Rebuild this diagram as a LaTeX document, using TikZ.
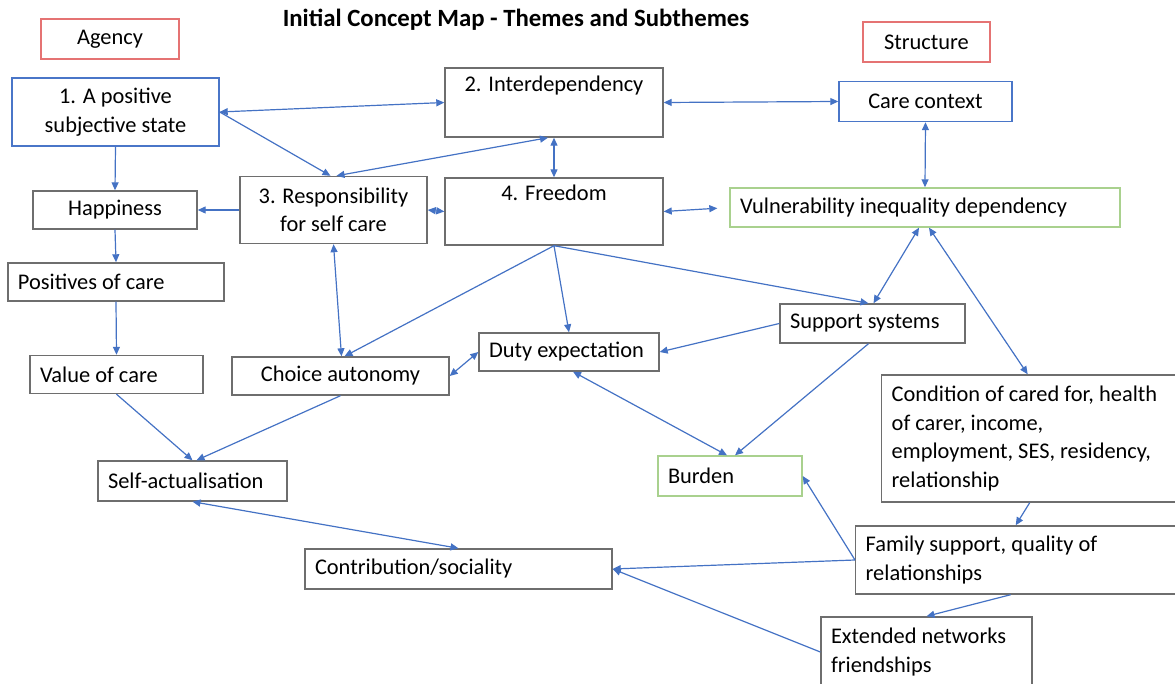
\documentclass[tikz,border=0pt]{standalone}
\usepackage{fontspec}
\setmainfont{Carlito}
\usetikzlibrary{arrows.meta}
\definecolor{linkB}{HTML}{4472C4}
\definecolor{boxG}{HTML}{6E6E6E}
\definecolor{themeB}{HTML}{4A76C8}
\definecolor{strucG}{HTML}{A9D18E}
\definecolor{headR}{HTML}{E57373}

\tikzset{
  box/.style={draw=boxG, line width=0.7pt, rectangle, inner xsep=5pt, inner ysep=0pt},
  cbox/.style={box, align=center},
  lbox/.style={box, align=flush left},
  link/.style={linkB, line width=0.6pt},
  tip/.style={-{Triangle[length=4pt,width=3.5pt]}},
  tips/.style={{Triangle[length=4pt,width=3.5pt]}-{Triangle[length=4pt,width=3.5pt]}}
}

\begin{document}
\begin{tikzpicture}[x=0.5pt, y=-0.5pt, font=\fontsize{11.2}{14.3}\selectfont]
  \useasboundingbox (0,0) rectangle (1175,684);

  \node[font=\fontsize{12.4}{15}\selectfont\bfseries] (title) at (516,20)
    {Initial Concept Map - Themes and Subthemes};
  \node[cbox, draw=headR, minimum width=69pt, minimum height=20pt] (agency) at (110,39) {Agency};
  \node[cbox, draw=headR, minimum width=63.5pt, minimum height=20pt] (structure) at (926.5,42) {Structure};

  % main themes
  \node[cbox, draw=themeB, minimum width=103.5pt, minimum height=34pt] (n1) at (115.5,112)
    {1. A positive\\subjective state};
  \node[cbox, minimum width=109pt, minimum height=34.5pt] (inter) at (554,102.5)
    {2. Interdependency\\\strut};
  \node[cbox, minimum width=93.5pt, minimum height=33.5pt] (resp) at (333.5,210)
    {3. Responsibility\\for self care};
  \node[cbox, minimum width=109pt, minimum height=33.5pt] (freedom) at (554,211.5)
    {4. Freedom\\\strut};

  % agency side
  \node[cbox, minimum width=82pt, minimum height=19pt] (happy) at (115,210) {Happiness};
  \node[lbox, text width=98pt, minimum height=19pt] (positives) at (116,282) {Positives of care};
  \node[lbox, text width=76.5pt, minimum height=19pt] (value) at (116.5,374.5) {Value of care};
  \node[cbox, minimum width=108.5pt, minimum height=19pt] (choice) at (340.5,376) {Choice autonomy};
  \node[lbox, text width=84.5pt, minimum height=20pt] (selfact) at (192.5,481) {Self-actualisation};
  \node[lbox, text width=80pt, minimum height=19pt] (duty) at (569,352) {Duty expectation};
  \node[lbox, text width=143.5pt, minimum height=20pt] (contrib) at (458.5,569) {Contribution/sociality};

  % structure side
  \node[cbox, draw=themeB, minimum width=86.5pt, minimum height=20pt] (carectx) at (925.5,101.5) {Care context};
  \node[lbox, draw=strucG, text width=185pt, minimum height=19.5pt] (vuln) at (925,207.5)
    {Vulnerability inequality dependency};
  \node[lbox, text width=82.5pt, minimum height=19.5pt] (support) at (872.5,323.5) {Support systems};
  \node[lbox, draw=strucG, text width=62pt, minimum height=20pt] (burden) at (730,476) {Burden};
  \node[lbox, anchor=west, text width=140pt, minimum height=63.5pt] (condition) at (881,438.5)
    {Condition of cared for, health\\of carer, income,\\employment, SES, residency,\\relationship};
  \node[lbox, anchor=west, text width=150pt, minimum height=34pt] (family) at (855,560)
    {Family support, quality of\\relationships};
  \node[lbox, text width=95.5pt, minimum height=35pt] (extended) at (926.5,652)
    {Extended networks\\friendships};

  % two-way links
  \foreach \a/\sa/\b/\sb in {
    n1.east/0/inter.west/0,
    inter.south/-3/resp.north/1.5,
    inter.south/0/freedom.north/0,
    inter.east/0/carectx.west/0,
    resp.east/0/freedom.west/0,
    carectx.south/0/vuln.north/0,
    resp.south/0/choice.north/0.5,
    vuln.south/-3/support.north/0.5,
    vuln.south/2/condition.north/-2,
    duty.south/2/burden.north/-1.5,
    choice.east/0/duty.west/0,
    selfact.south/0/contrib.north/0}{
    \draw[link, tips] ([xshift=\sa pt]\a) -- ([xshift=\sb pt]\b);
  }
  \draw[link, tips, shorten >=6pt] (freedom.east) -- (vuln.west);

  % one-way links
  \foreach \a/\sa/\b/\sb in {
    n1.east/0/resp.north/-1.5,
    resp.west/0/happy.east/0,
    n1.south/0/happy.north/0,
    happy.south/0/positives.north/0,
    positives.south/0/value.north/0,
    freedom.south/0/choice.north/2,
    freedom.south/0/duty.north/0,
    freedom.south/0/support.north/-2,
    support.west/0/duty.east/0,
    support.south/-2/burden.north/2.5,
    value.south/0/selfact.north/0,
    choice.south/0/selfact.north/2,
    condition.south/-1/family.north/0,
    family.west/0/burden.east/0,
    family.west/0/contrib.east/0,
    family.south/-2.5/extended.north/0,
    extended.west/0/contrib.east/0}{
    \draw[link, tip] ([xshift=\sa pt]\a) -- ([xshift=\sb pt]\b);
  }
\end{tikzpicture}
\end{document}
